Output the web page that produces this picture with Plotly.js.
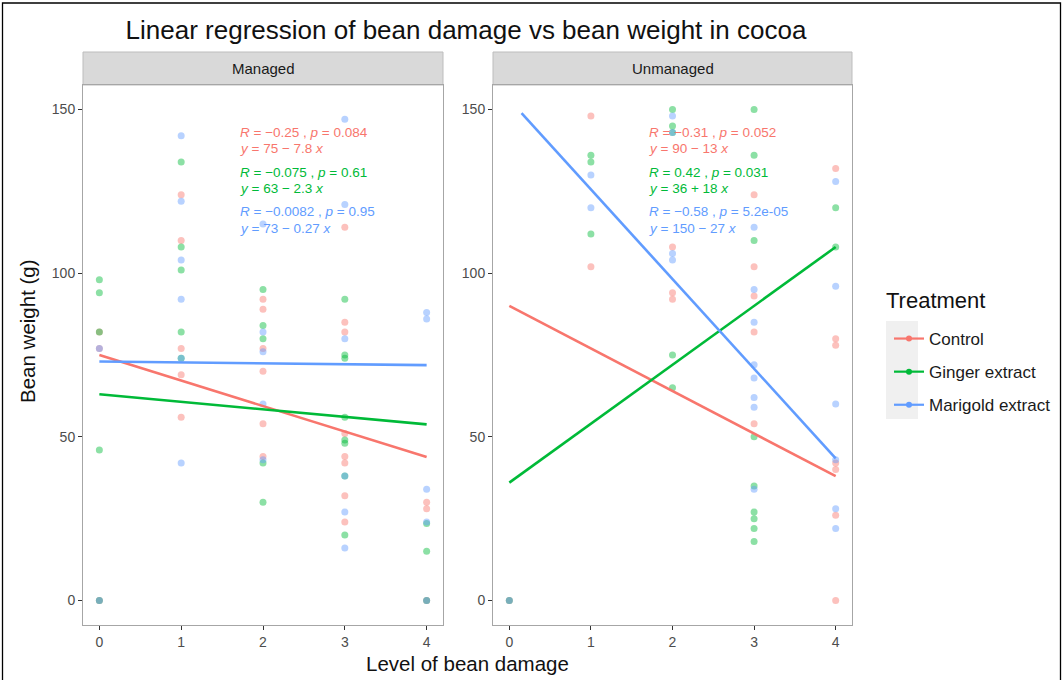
<!DOCTYPE html>
<html>
<head>
<meta charset="utf-8">
<script src="https://cdn.plot.ly/plotly-3.0.1.min.js"></script>
<style>
html,body{margin:0;padding:0;background:#fff;}
#chart{width:1063px;height:680px;}
</style>
</head>
<body>
<div id="chart"></div>
<script>
// ---------------- DATA ----------------
const treatments = ['Control', 'Ginger extract', 'Marigold extract'];
const panels = ['Managed', 'Unmanaged'];

// Managed – points (Level of bean damage, Bean weight g)
const managedControlX = [0,0,0, 1,1,1,1,1, 2,2,2,2,2,2, 3,3,3,3,3,3,3,3, 4,4,4];
const managedControlY = [82,77,0, 124,110,77,69,56, 92,89,77,70,54,44, 114,85,82,51,44,42,32,24, 30,28,0];
const managedGingerX  = [0,0,0,0,0, 1,1,1,1,1, 2,2,2,2,2, 3,3,3,3,3,3,3,3, 4,4,4];
const managedGingerY  = [98,94,82,46,0, 134,108,101,82,74, 95,84,80,42,30, 92,75,74,56,49,48,38,20, 23.5,15,0];
const managedMarigoldX = [0,0, 1,1,1,1,1,1, 2,2,2,2,2, 3,3,3,3,3,3, 4,4,4,4,4];
const managedMarigoldY = [77,0, 142,122,104,92,74,42, 115,82,76,60,43, 147,121,80,38,27,16, 88,86,34,24,0];

// Unmanaged – points
const unmanagedControlX = [0, 1,1, 2,2,2, 3,3,3,3,3, 4,4,4,4,4,4,4];
const unmanagedControlY = [0, 148,102, 108,94,92, 124,102,93,82,54, 132,80,78,42,40,26,0];
const unmanagedGingerX  = [0, 1,1,1, 2,2,2,2,2, 3,3,3,3,3,3,3,3,3, 4,4];
const unmanagedGingerY  = [0, 136,134,112, 150,145,143,75,65, 150,136,110,50,35,27,25,22,18, 120,108];
const unmanagedMarigoldX = [0, 1,1, 2,2,2,2, 3,3,3,3,3,3,3,3, 4,4,4,4,4,4];
const unmanagedMarigoldY = [0, 130,120, 148,143,106,104, 114,95,85,72,68,62,59,34, 128,96,60,43,28,22];

// Fitted regression lines
const managedIntercept = [75, 63, 73];
const managedSlope = [-7.8, -2.3, -0.27];
const managedFitFrom = [0, 0, 0];
const managedFitTo = [4, 4, 4];
const unmanagedIntercept = [90, 36, 153];
const unmanagedSlope = [-13, 18, -27.4];
const unmanagedFitFrom = [0, 0, 0.15];
const unmanagedFitTo = [4, 4, 4];

// Statistic labels
const managedRLabels = ['<i>R</i> = \u22120.25 , <i>p</i> = 0.084', '<i>R</i> = \u22120.075 , <i>p</i> = 0.61', '<i>R</i> = \u22120.0082 , <i>p</i> = 0.95'];
const managedEqLabels = ['<i>y</i> = 75 \u2212 7.8 <i>x</i>', '<i>y</i> = 63 \u2212 2.3 <i>x</i>', '<i>y</i> = 73 \u2212 0.27 <i>x</i>'];
const unmanagedRLabels = ['<i>R</i> = \u22120.31 , <i>p</i> = 0.052', '<i>R</i> = 0.42 , <i>p</i> = 0.031', '<i>R</i> = \u22120.58 , <i>p</i> = 5.2e-05'];
const unmanagedEqLabels = ['<i>y</i> = 90 \u2212 13 <i>x</i>', '<i>y</i> = 36 + 18 <i>x</i>', '<i>y</i> = 150 \u2212 27 <i>x</i>'];

const xTickVals = [0, 1, 2, 3, 4];
const yTickVals = [0, 50, 100, 150];

// ---------------- STYLE ----------------
const colors = ['#F8766D', '#00BA38', '#619CFF'];
const FONT = '"Liberation Sans", Arial, Helvetica, sans-serif';

const pointSets = [
  [[managedControlX, managedControlY], [managedGingerX, managedGingerY], [managedMarigoldX, managedMarigoldY]],
  [[unmanagedControlX, unmanagedControlY], [unmanagedGingerX, unmanagedGingerY], [unmanagedMarigoldX, unmanagedMarigoldY]]
];
const fits = [
  {b0: managedIntercept, b1: managedSlope, from: managedFitFrom, to: managedFitTo, r: managedRLabels, eq: managedEqLabels},
  {b0: unmanagedIntercept, b1: unmanagedSlope, from: unmanagedFitFrom, to: unmanagedFitTo, r: unmanagedRLabels, eq: unmanagedEqLabels}
];

const traces = [];
const annotations = [];
const axisSuffix = ['', '2'];

panels.forEach((p, pi) => {
  const xa = 'x' + axisSuffix[pi], ya = 'y' + axisSuffix[pi];
  treatments.forEach((t, ti) => {
    traces.push({
      type: 'scatter', mode: 'markers', xaxis: xa, yaxis: ya,
      x: pointSets[pi][ti][0], y: pointSets[pi][ti][1],
      marker: {color: colors[ti], size: 7, opacity: 0.45},
      showlegend: false, hoverinfo: 'x+y', name: t
    });
  });
  treatments.forEach((t, ti) => {
    const f = fits[pi];
    const xs = [f.from[ti], f.to[ti]];
    traces.push({
      type: 'scatter', mode: 'lines', xaxis: xa, yaxis: ya,
      x: xs, y: xs.map(v => f.b0[ti] + f.b1[ti] * v),
      line: {color: colors[ti], width: 2.6},
      showlegend: false, name: t
    });
  });
});

// legend-only traces
treatments.forEach((t, ti) => {
  traces.push({
    type: 'scatter', mode: 'lines+markers', x: [null], y: [null],
    name: t, legendgroup: 'g' + ti,
    line: {color: colors[ti], width: 2.2},
    marker: {color: colors[ti], size: 6},
    showlegend: true
  });
});

// stat labels
const labelY = [[143.1, 138.2], [130.8, 125.9], [118.7, 113.8]];
panels.forEach((p, pi) => {
  const f = fits[pi];
  treatments.forEach((t, ti) => {
    [f.r[ti], f.eq[ti]].forEach((txt, li) => {
      annotations.push({
        xref: 'x' + axisSuffix[pi], yref: 'y' + axisSuffix[pi],
        x: 1.69, y: labelY[ti][li], text: txt, showarrow: false,
        xanchor: 'left', yanchor: 'middle',
        font: {family: FONT, size: 13.5, color: colors[ti]}
      });
    });
  });
});

// strip labels
const dom = [[83/1063, 443/1063], [493/1063, 852/1063]];
const yDom = [1 - 625/680, 1 - 85/680];
const stripTop = 1 - 52/680;
const shapes = [];
panels.forEach((p, pi) => {
  shapes.push({type: 'rect', xref: 'paper', yref: 'paper',
    x0: dom[pi][0], x1: dom[pi][1], y0: yDom[1], y1: stripTop,
    fillcolor: '#D9D9D9', line: {color: '#BDBDBD', width: 1}, layer: 'below'});
  annotations.push({xref: 'paper', yref: 'paper', x: (dom[pi][0] + dom[pi][1]) / 2,
    y: (yDom[1] + stripTop) / 2, text: p, showarrow: false,
    xanchor: 'center', yanchor: 'middle', font: {family: FONT, size: 15, color: '#1A1A1A'}});
});
// legend key background
shapes.push({type: 'rect', xref: 'paper', yref: 'paper',
  x0: 886/1063, x1: 918/1063, y0: 1 - 419/680, y1: 1 - 321/680,
  fillcolor: '#F0F0F0', line: {width: 0}, layer: 'below'});
// outer frame
shapes.push({type: 'rect', xref: 'paper', yref: 'paper',
  x0: 2.5/1063, x1: 1060.5/1063, y0: -0.02, y1: 1 - 3/680,
  fillcolor: 'rgba(0,0,0,0)', line: {color: '#000', width: 1.3}});

function xAxis(d, anchor) {
  return {domain: d, anchor: anchor, range: [-0.2, 4.2], tickvals: xTickVals,
    ticks: 'outside', ticklen: 4, tickcolor: '#333', tickwidth: 1,
    showline: true, mirror: true, linecolor: '#A6A6A6', linewidth: 1,
    showgrid: false, zeroline: false,
    tickfont: {family: FONT, size: 14, color: '#4D4D4D'}};
}
function yAxis(anchor) {
  return {domain: yDom, anchor: anchor, range: [-7.5, 157.5], tickvals: yTickVals,
    ticks: 'outside', ticklen: 4, tickcolor: '#333', tickwidth: 1,
    showline: true, mirror: true, linecolor: '#A6A6A6', linewidth: 1,
    showgrid: false, zeroline: false,
    tickfont: {family: FONT, size: 14, color: '#4D4D4D'}};
}

const xa1 = xAxis(dom[0], 'y');
const xa2 = xAxis(dom[1], 'y2');
const ya1 = yAxis('x');
const ya2 = yAxis('x2');

// axis titles
annotations.push({xref: 'paper', yref: 'paper', x: 467/1063, y: 1 - 663/680,
  text: 'Level of bean damage', showarrow: false, xanchor: 'center', yanchor: 'middle',
  font: {family: FONT, size: 20.5, color: '#111'}});
annotations.push({xref: 'paper', yref: 'paper', x: 27/1063, y: 1 - 331/680,
  text: 'Bean weight (g)', showarrow: false, textangle: -90, xanchor: 'center', yanchor: 'middle',
  font: {family: FONT, size: 20.5, color: '#111'}});
// legend title
annotations.push({xref: 'paper', yref: 'paper', x: 884/1063, y: 1 - 300/680,
  text: 'Treatment', showarrow: false, xanchor: 'left', yanchor: 'middle',
  font: {family: FONT, size: 22, color: '#111'}});

const layout = {
  width: 1063, height: 680,
  margin: {l: 0, r: 0, t: 0, b: 0},
  paper_bgcolor: '#fff', plot_bgcolor: '#fff',
  title: {text: 'Linear regression of bean damage vs bean weight in cocoa',
    x: 466/1063, xanchor: 'center', y: 1 - 30/680, yanchor: 'middle',
    font: {family: FONT, size: 26, color: '#111'}},
  xaxis: xa1, yaxis: ya1, xaxis2: xa2, yaxis2: ya2,
  showlegend: true,
  legend: {x: 889/1063, xanchor: 'left', y: 1 - 321/680, yanchor: 'top',
    bgcolor: 'rgba(0,0,0,0)', traceorder: 'grouped', tracegroupgap: 8,
    font: {family: FONT, size: 17, color: '#1A1A1A'}, itemwidth: 30},
  shapes: shapes,
  annotations: annotations
};

Plotly.newPlot('chart', traces, layout, {displayModeBar: false, staticPlot: true});
</script>
</body>
</html>
